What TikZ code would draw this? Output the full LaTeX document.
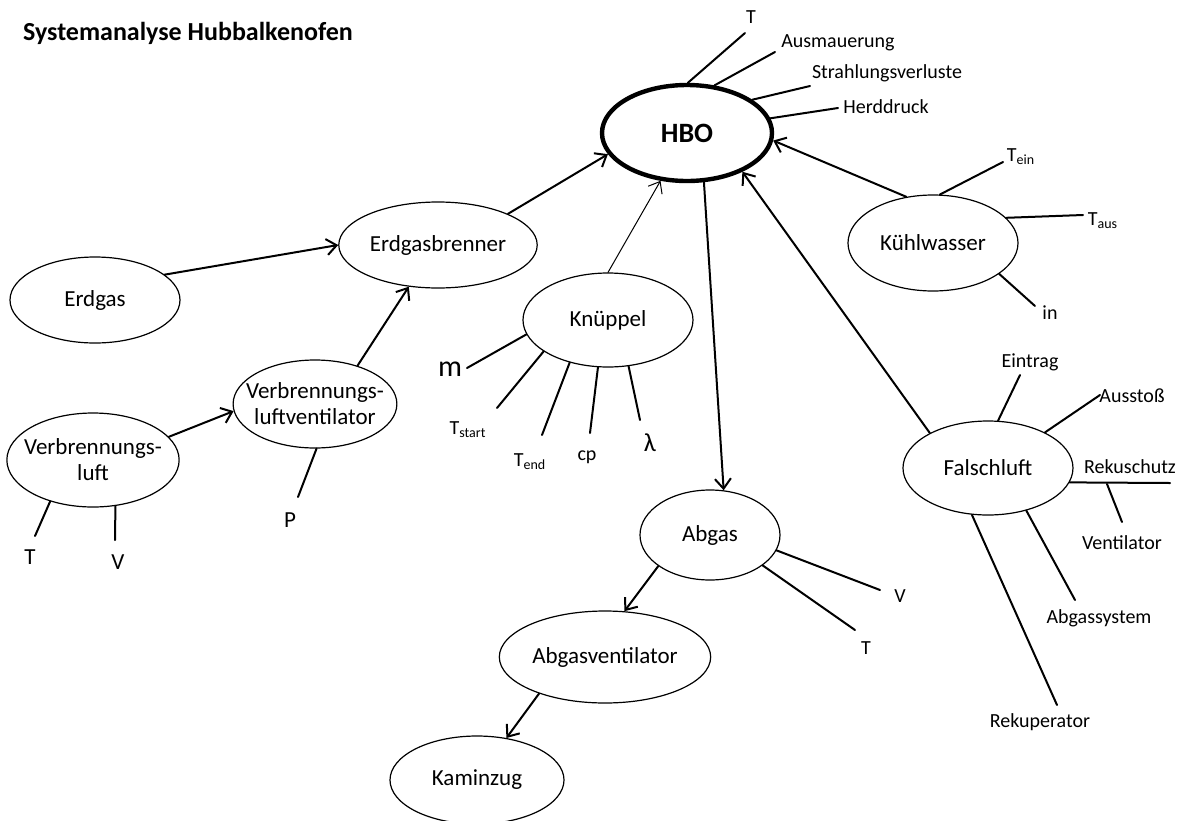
\documentclass[tikz,border=0pt]{standalone}
\usepackage{fontspec}
\setmainfont{Carlito}
\usetikzlibrary{arrows.meta, shapes.geometric}

\tikzset{
  sysnode/.style={ellipse, draw, line width=0.6pt, minimum width=85pt, minimum height=47pt, inner sep=1pt, align=center},
  mainnode/.style={sysnode, line width=2.2pt, font=\fontsize{14}{16}\selectfont\bfseries},
  flow/.style={->, line width=1pt},
  prop/.style={line width=1pt},
  plabel/.style={font=\fontsize{10}{12}\selectfont, inner sep=1pt}
}

\begin{document}
\begin{tikzpicture}[x=0.5pt, y=-0.5pt, >={Straight Barb[length=5pt,width=8pt]}, line cap=round, line join=round, font=\fontsize{11.5}{13}\selectfont]
		\useasboundingbox (0,0) rectangle (1184,820);
		
		%========================
		% title
		%========================
		\node[anchor=west, font=\fontsize{13}{15}\selectfont\bfseries] (title) at (16,33) {Systemanalyse Hubbalkenofen};
		
		%========================
		% main nodes
		%========================
		\node[mainnode, minimum width=85pt, minimum height=48pt] (hbo) at (687,133) {HBO};
		\node[sysnode, minimum width=83pt, minimum height=43pt] (brenner) at (438,245) {Erdgasbrenner};
		\node[sysnode, minimum height=43pt] (erdgas) at (95,300) {Erdgas};
		\node[sysnode] (knueppel) at (608,320) {Knüppel};
		\node[sysnode, inner xsep=-5.5pt, minimum width=72pt, minimum height=44pt] (vlv) at (315,404) {Verbrennungs-\\luftventilator};
		\node[sysnode, inner xsep=-4pt] (vl) at (93,460) {Verbrennungs-\\luft};
		\node[sysnode, minimum height=48pt] (kuehl) at (933,243) {Kühlwasser};
		\node[sysnode] (falsch) at (988,468) {Falschluft};
		\node[sysnode, minimum width=70pt, minimum height=45pt] (abgas) at (710,535) {Abgas};
		\node[sysnode, minimum width=87pt, minimum height=46pt] (abgasvent) at (605,657) {Abgasventilator};
		\node[sysnode, minimum width=87pt, minimum height=44pt] (kamin) at (477,780) {Kaminzug};
		
		% flows
		\draw[flow] (erdgas.20) -- (brenner.west);
		\draw[flow] (brenner.24) -- (hbo.195);
		\draw[flow] (vl.17) -- (vlv.185);
		\draw[flow] (vlv.42) -- (brenner.235);
		\draw[->, line width=0.5pt] (knueppel.90) -- (hbo.241);
		\draw[flow] (hbo.289) -- (abgas.73);
		\draw[flow] (kuehl.120) -- (hbo.355);
		\draw[flow] (falsch.149) -- (hbo.325);
		\draw[flow] (abgas.211) -- (abgasvent.67);
		\draw[flow] (abgasvent.209) -- (kamin.55);
		
		%========================
		% HBO parameters
		%========================
		\coordinate (hT) at (745,33);
		\coordinate (hAus) at (775,52);
		\coordinate (hStr) at (810,86);
		\coordinate (hHerd) at (838,108);
		\draw[prop] (hbo.89) -- (hT);
		\draw[prop] (hbo.60) -- (hAus);
		\draw[prop] (hbo.27.6) -- (hStr);
		\draw[prop] (hbo.10.5) -- (hHerd);
		\node[plabel] (lhT) at (751,17) {T};
		\node[plabel] (lhAus) at (838,43) {Ausmauerung};
		\node[plabel] (lhStr) at (887,73) {Strahlungsverluste};
		\node[plabel] (lhHerd) at (886,107) {Herddruck};
		
		%========================
		% Knueppel parameters
		%========================
		\coordinate (km) at (467,368);
		\coordinate (kTs) at (497,408);
		\coordinate (kTe) at (542,435);
		\coordinate (kcp) at (590,433);
		\coordinate (kla) at (640,420);
		\draw[prop] (knueppel.190) -- (km);
		\draw[prop] (knueppel.206) -- (kTs);
		\draw[prop] (knueppel.228.5) -- (kTe);
		\draw[prop] (knueppel.258) -- (kcp);
		\draw[prop] (knueppel.294) -- (kla);
		\node[plabel, font=\fontsize{15}{17}\selectfont] (lkm) at (450,369) {m};
		\node[plabel] (lkTs) at (468,430) {T\textsubscript{start}};
		\node[plabel] (lkTe) at (530,462) {T\textsubscript{end}};
		\node[plabel] (lkcp) at (587,457) {cp};
		\node[plabel, font=\fontsize{13}{15}\selectfont] (lkla) at (650,443) {λ};
		
		%========================
		% Kuehlwasser parameters
		%========================
		\coordinate (wTe) at (1003,162);
		\coordinate (wTa) at (1083,215);
		\coordinate (win) at (1035,306);
		\draw[prop] (kuehl.82) -- (wTe);
		\draw[prop] (kuehl.19.7) -- (wTa);
		\draw[prop] (kuehl.335) -- (win);
		\node[plabel] (lwTe) at (1021,157) {T\textsubscript{ein}};
		\node[plabel] (lwTa) at (1103,221) {T\textsubscript{aus}};
		\node[plabel] (lwin) at (1050,313) {in};
		
		%========================
		% Falschluft parameters
		%========================
		\coordinate (fEin) at (1020,375);
		\coordinate (fAus) at (1100,395);
		\coordinate (fReku) at (1170,483);
		\coordinate (fVa) at (1107,484);
		\coordinate (fVb) at (1122,522);
		\coordinate (fAbg) at (1075,600);
		\coordinate (fRekup) at (1057,705);
		\draw[prop] (falsch.78) -- (fEin);
		\draw[prop] (falsch.32) -- (fAus);
		\draw[prop] (falsch.350) -- (fReku);
		\draw[prop] (fVa) -- (fVb);
		\draw[prop] (falsch.312) -- (fAbg);
		\draw[prop] (falsch.251) -- (fRekup);
		\node[plabel] (lfEin) at (1030,362) {Eintrag};
		\node[plabel] (lfAus) at (1132,396) {Ausstoß};
		\node[plabel] (lfReku) at (1130,467) {Rekuschutz};
		\node[plabel] (lfV) at (1122,543) {Ventilator};
		\node[plabel] (lfAbg) at (1099,618) {Abgassystem};
		\node[plabel] (lfRekup) at (1040,722) {Rekuperator};
		
		%========================
		% Abgas parameters
		%========================
		\coordinate (aV) at (880,590);
		\coordinate (aT) at (855,630);
		\draw[prop] (abgas.347) -- (aV);
		\draw[prop] (abgas.330) -- (aT);
		\node[plabel] (laV) at (900,596) {V};
		\node[plabel] (laT) at (866,648) {T};
		
		%========================
		% Verbrennungsluft parameters
		%========================
		\coordinate (vT) at (35,536);
		\coordinate (vV) at (115,540);
		\coordinate (vP) at (298,497);
		\draw[prop] (vl.224) -- (vT);
		\draw[prop] (vl.296) -- (vV);
		\draw[prop] (vlv.272) -- (vP);
		\node[plabel, font=\fontsize{11.5}{13}\selectfont] (lvT) at (30,557) {T};
		\node[plabel, font=\fontsize{11.5}{13}\selectfont] (lvV) at (118,562) {V};
		\node[plabel, font=\fontsize{11.5}{13}\selectfont] (lvP) at (290,520) {P};
		
	\end{tikzpicture}
\end{document}
